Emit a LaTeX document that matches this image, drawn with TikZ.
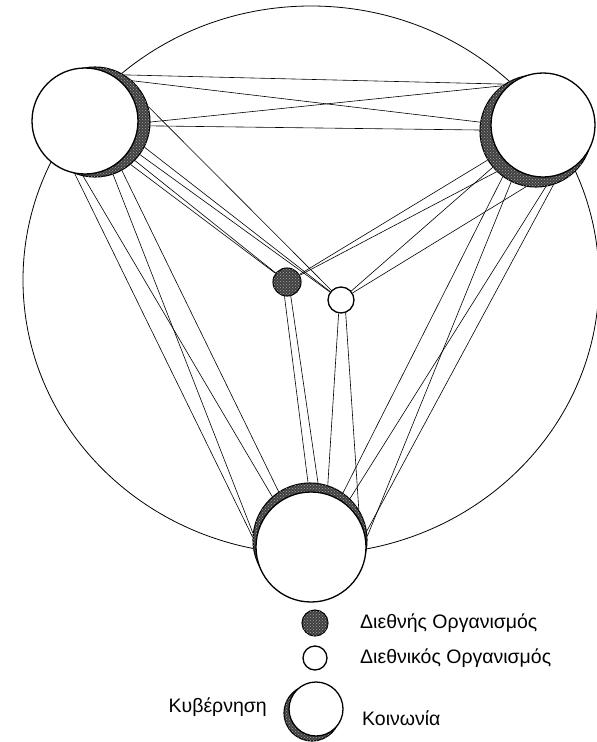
\documentclass[tikz,border=0pt]{standalone}
\usepackage{fontspec}
\setmainfont{Liberation Sans}
\usetikzlibrary{backgrounds, patterns}

\begin{document}
\begin{tikzpicture}[
      x = 1pt, y = -1pt,
 gov/.style = {circle, draw, line width=1.1pt, fill=black!75,
               postaction={pattern=crosshatch dots, pattern color=black!35},
               inner sep=0pt, minimum size=#1},
 soc/.style = {circle, draw, line width=1.3pt, fill=white,
               inner sep=0pt, minimum size=#1},
link/.style = {line width=0.6pt},
 lbl/.style = {font=\fontsize{19.5}{22}\selectfont, inner sep=0pt}
                    ]
\useasboundingbox (0,0) rectangle (597,742);
% countries: government behind, society in front
\node[gov=110] (tlg) at (95,122) {};
\node[soc=106] (tls) at (85,121) {};
\node[gov=112] (trg) at (536,131) {};
\node[soc=104] (trs) at (543,125) {};
\node[gov=114] (bg)  at (310,540) {};
\node[soc=110] (bs)  at (311,547) {};
% organisations
\node[gov=28] (igo)  at (287,282) {};
\node[soc=26] (ingo) at (341,300) {};
% links
\begin{scope}[on background layer]
\draw[line width=0.8pt] (311,280) ellipse [x radius=288, y radius=274];
% top left - top right
\draw[link] (tlg.58) -- (trg.124);
\draw[link] (tlg.48) -- (trg.171);
\draw[link] (tlg.0)  -- (trg.127);
\draw[link] (tlg.-4) -- (trg.179);
% top left - bottom
\draw[link] (tls.-101) -- (bg.177);
\draw[link] (tls.-93)  -- (bg.131);
\draw[link] (tlg.-71)  -- (bg.173);
\draw[link] (tlg.-61)  -- (bg.123);
% top right - bottom
\draw[link] (trg.-126) -- (bg.55);
\draw[link] (trg.-80)  -- (bg.46);
\draw[link] (trg.-116) -- (bg.4);
\draw[link] (trg.-72)  -- (bg.9);
% to the dark one
\draw[link] (tlg.-44)  -- (igo);
\draw[link] (tlg.-50)  -- (igo);
\draw[link] (trg.-149) -- (igo);
\draw[link] (trg.-134) -- (igo);
\draw[link] (igo.-100) -- (bg.92);
\draw[link] (igo.-75)  -- (bg.82);
% to the white one
\draw[link] (tlg.16)   -- (ingo);
\draw[link] (tlg.-27)  -- (ingo);
\draw[link] (tlg.-36)  -- (ingo);
\draw[link] (trg.-140) -- (ingo);
\draw[link] (trg.-100) -- (ingo);
\draw[link] (ingo.-100) -- (bg.72);
\draw[link] (ingo.-70)  -- (bg.32);
\end{scope}
% legend
\node[gov=26] (kigo)  at (315,623) {};
\node[soc=24] (kingo) at (315,658) {};
\node[gov=56] (kg)    at (312,713) {};
\node[soc=54] (ks)    at (316,709) {};
\node[lbl, anchor=west] (tigo)  at (360,623) {Διεθνής Οργανισμός};
\node[lbl, anchor=west] (tingo) at (360,658) {Διεθνικός Οργανισμός};
\node[lbl, anchor=east] (tg)    at (267,707) {Κυβέρνηση};
\node[lbl, anchor=west] (ts)    at (362,718) {Κοινωνία};
\end{tikzpicture}
\end{document}
